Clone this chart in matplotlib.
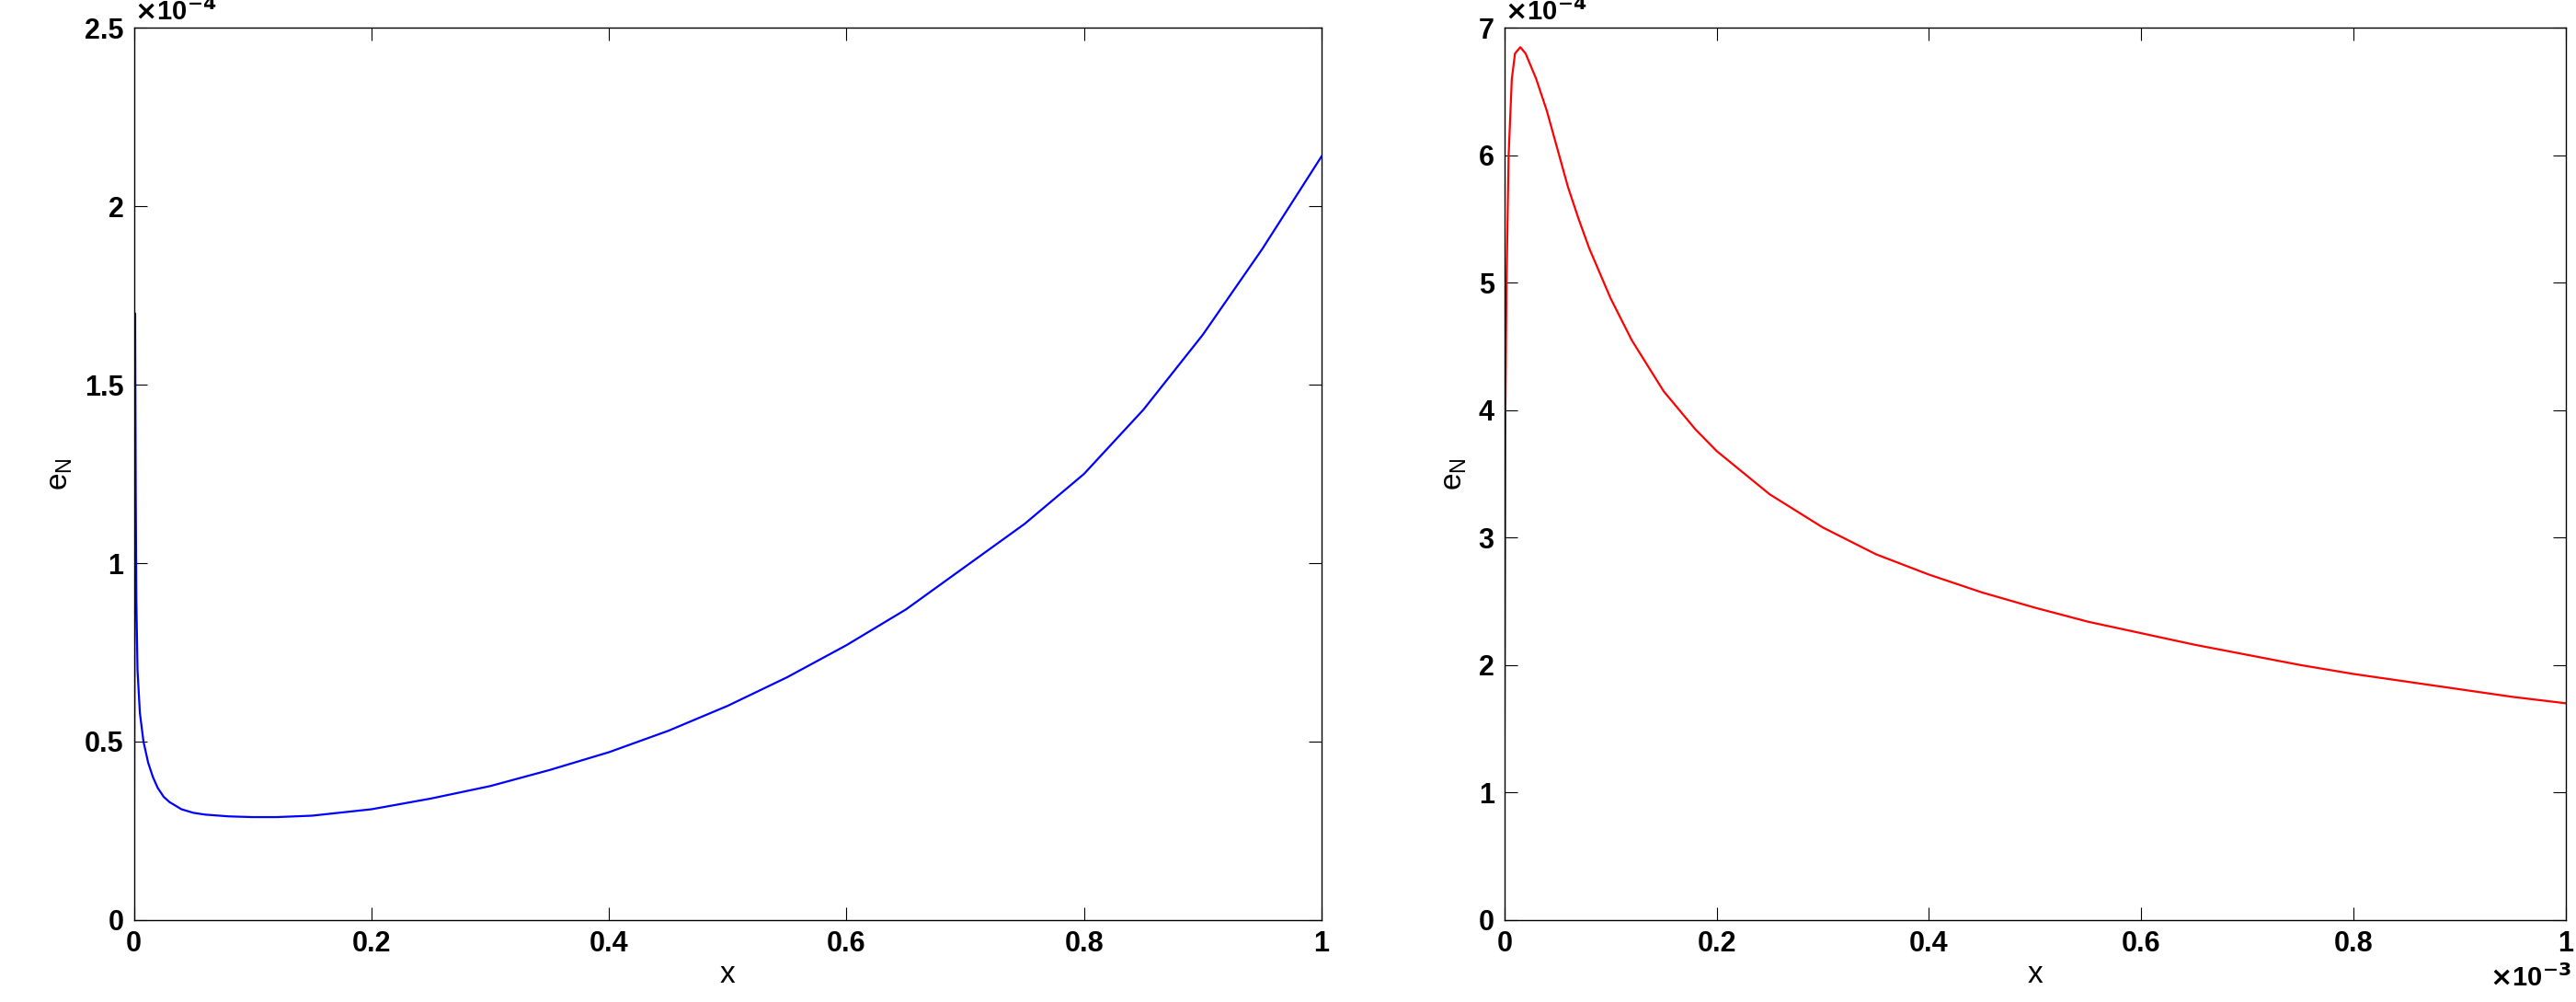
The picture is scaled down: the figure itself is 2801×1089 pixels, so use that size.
import matplotlib.pyplot as plt

# left panel: e_N over x (values in units of 1e-4)
x_left = [0, 0.0003, 0.001, 0.0015, 0.002, 0.003, 0.005, 0.008, 0.012, 0.016, 0.02, 0.025,
          0.03, 0.04, 0.05, 0.06, 0.08, 0.1, 0.12, 0.15, 0.2, 0.25, 0.3, 0.35, 0.4, 0.45,
          0.5, 0.55, 0.6, 0.65, 0.7, 0.75, 0.8, 0.85, 0.9, 0.95, 1.0]
e_left = [0, 0.5, 1.7, 1.2, 0.9, 0.7, 0.58, 0.5, 0.44, 0.4, 0.37, 0.345,
          0.33, 0.31, 0.3, 0.295, 0.29, 0.288, 0.288, 0.292, 0.31, 0.34, 0.375, 0.42, 0.47, 0.53,
          0.6, 0.68, 0.77, 0.87, 0.99, 1.11, 1.25, 1.43, 1.64, 1.88, 2.14]

# right panel: e_N over x (x in units of 1e-3, e in units of 1e-4)
x_right = [0, 0.0, 0.001, 0.002, 0.004, 0.007, 0.01, 0.015, 0.02, 0.025, 0.03, 0.04, 0.05,
           0.06, 0.07, 0.08, 0.1, 0.12, 0.15, 0.18, 0.2, 0.25, 0.3, 0.35, 0.4, 0.45, 0.5, 0.55,
           0.6, 0.65, 0.7, 0.75, 0.8, 0.85, 0.9, 0.95, 1.0]
e_right = [0, 1.1, 4.0, 5.0, 6.0, 6.6, 6.8, 6.85, 6.8, 6.7, 6.6, 6.35, 6.05,
           5.75, 5.5, 5.27, 4.88, 4.55, 4.15, 3.85, 3.68, 3.34, 3.08, 2.87, 2.71, 2.57, 2.45, 2.34,
           2.25, 2.16, 2.08, 2.0, 1.93, 1.87, 1.81, 1.75, 1.7]

plt.rcParams['font.family'] = 'Liberation Sans'
plt.rcParams['font.weight'] = 'bold'

fig = plt.figure(figsize=(28.01, 10.89), dpi=100)
ax1 = fig.add_axes([0.052, 0.082, 0.461, 0.89])
ax2 = fig.add_axes([0.584, 0.082, 0.412, 0.89])

ax1.plot(x_left, e_left, color='blue', lw=1.6)
ax1.set_xlim(0, 1)
ax1.set_ylim(0, 2.5)
ax1.set_xticks([0, 0.2, 0.4, 0.6, 0.8, 1])
ax1.set_xticklabels(['0', '0.2', '0.4', '0.6', '0.8', '1'])
ax1.set_yticks([0, 0.5, 1, 1.5, 2, 2.5])
ax1.set_yticklabels(['0', '0.5', '1', '1.5', '2', '2.5'])
ax1.text(0, 1.003, r'$\times$10$^{-4}$', transform=ax1.transAxes, fontsize=21, va='bottom')

ax2.plot(x_right, e_right, color='red', lw=1.6)
ax2.set_xlim(0, 1)
ax2.set_ylim(0, 7)
ax2.set_xticks([0, 0.2, 0.4, 0.6, 0.8, 1])
ax2.set_xticklabels(['0', '0.2', '0.4', '0.6', '0.8', '1'])
ax2.set_yticks(range(8))
ax2.text(0, 1.003, r'$\times$10$^{-4}$', transform=ax2.transAxes, fontsize=21, va='bottom')
ax2.text(1.005, -0.05, r'$\times$10$^{-3}$', transform=ax2.transAxes, fontsize=21, va='top', ha='right')

for ax in (ax1, ax2):
    ax.tick_params(direction='in', top=True, right=True, length=10, labelsize=22, pad=8)
    ax.set_xlabel('x', fontsize=24, labelpad=2)
    ax.set_ylabel(r'e$_\mathregular{N}$', fontsize=24, labelpad=8)
    for s in ax.spines.values():
        s.set_linewidth(1)

fig.savefig('out.png', dpi=100)
